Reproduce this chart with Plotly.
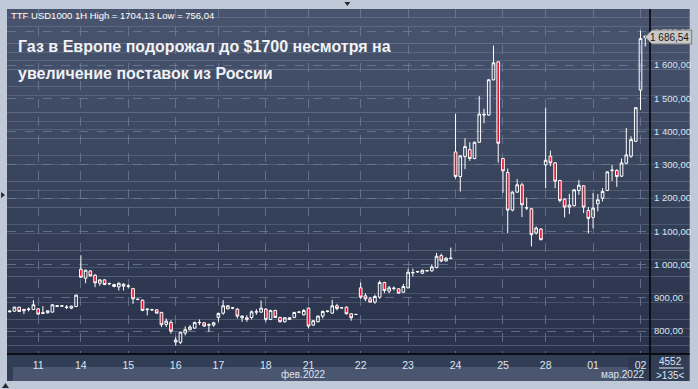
import plotly.graph_objects as go

# ---------------- data (hourly candles, 135 visible) ----------------
opens = [858, 860, 872, 861, 865, 865, 867, 853, 855, 857,
         874, 875, 871, 869, 874, 986, 959, 981, 968, 944,
         954, 942, 940, 933, 935, 936, 928, 896, 893, 864,
         864, 864, 856, 820, 826, 767, 766, 794, 804, 809,
         825, 825, 818, 818, 841, 854, 867, 869, 866, 840,
         840, 841, 857, 857, 866, 835, 862, 841, 828, 835,
         841, 857, 849, 869, 818, 828, 845, 859, 854, 876,
         870, 872, 852, 850, 930, 906, 897, 887, 902, 946,
         920, 928, 927, 917, 930, 975, 978, 974, 981, 981,
         991, 1027, 1011, 1018, 1339, 1265, 1325, 1346, 1319, 1368,
         1450, 1450, 1556, 1610, 1319, 1277, 1164, 1218, 1240, 1170,
         1168, 1095, 1107, 1300, 1326, 1306, 1253, 1197, 1173, 1177,
         1223, 1237, 1163, 1142, 1183, 1200, 1223, 1283, 1283, 1266,
         1305, 1326, 1371, 1525, 1683]
highs = [862, 873, 873, 867, 871, 893, 869, 875, 862, 881,
         877, 877, 878, 876, 910, 1028, 985, 983, 971, 956,
         956, 946, 942, 946, 944, 941, 930, 898, 895, 868,
         867, 866, 858, 838, 833, 782, 797, 814, 818, 828,
         835, 827, 823, 828, 856, 893, 878, 872, 869, 847,
         848, 862, 866, 892, 869, 864, 864, 843, 842, 842,
         858, 860, 866, 871, 833, 847, 862, 862, 894, 882,
         872, 874, 854, 851, 946, 914, 903, 910, 952, 948,
         936, 934, 929, 942, 988, 988, 981, 985, 984, 1001,
         1035, 1033, 1023, 1051, 1454, 1330, 1380, 1368, 1370, 1507,
         1469, 1558, 1659, 1612, 1321, 1289, 1220, 1257, 1246, 1202,
         1170, 1115, 1109, 1472, 1343, 1308, 1255, 1199, 1213, 1227,
         1255, 1239, 1173, 1215, 1212, 1230, 1281, 1300, 1287, 1319,
         1411, 1386, 1474, 1704, 1689]
lows = [856, 858, 857, 851, 859, 863, 849, 851, 853, 856,
        872, 873, 866, 866, 872, 960, 944, 964, 932, 936,
        938, 938, 932, 922, 922, 928, 882, 893, 860, 847,
        861, 852, 812, 812, 792, 756, 761, 787, 802, 807,
        818, 813, 797, 813, 828, 849, 865, 866, 838, 828,
        828, 835, 849, 855, 828, 833, 839, 826, 826, 833,
        839, 854, 847, 808, 816, 826, 838, 856, 852, 862,
        868, 850, 831, 849, 897, 890, 887, 882, 897, 914,
        914, 922, 914, 915, 929, 964, 975, 972, 979, 979,
        989, 1007, 1009, 1017, 1259, 1220, 1287, 1312, 1317, 1366,
        1425, 1448, 1554, 1307, 1216, 1095, 1160, 1216, 1143, 1164,
        1055, 1090, 1073, 1230, 1296, 1230, 1187, 1142, 1152, 1175,
        1210, 1155, 1094, 1109, 1160, 1190, 1221, 1252, 1234, 1264,
        1303, 1321, 1369, 1465, 1656]
closes = [860, 872, 859, 865, 866, 879, 851, 855, 861, 879,
          876, 876, 872, 875, 908, 962, 983, 966, 945, 954,
          940, 943, 934, 944, 941, 935, 897, 895, 862, 866,
          864, 854, 819, 830, 800, 773, 797, 804, 812, 826,
          826, 815, 819, 825, 853, 876, 876, 870, 845, 845,
          835, 858, 858, 869, 835, 862, 841, 828, 840, 840,
          856, 857, 862, 815, 831, 845, 859, 860, 876, 868,
          870, 852, 840, 850, 902, 897, 887, 904, 946, 922,
          930, 929, 914, 934, 977, 976, 979, 983, 982, 993,
          1025, 1011, 1019, 1019, 1265, 1327, 1355, 1319, 1368, 1453,
          1452, 1556, 1607, 1365, 1282, 1164, 1218, 1240, 1180, 1171,
          1090, 1110, 1075, 1314, 1306, 1251, 1193, 1173, 1179, 1225,
          1239, 1173, 1139, 1170, 1195, 1220, 1279, 1284, 1265, 1306,
          1330, 1376, 1472, 1680, 1687]

day_start_index = [6, 15, 25, 35, 44, 54, 63, 74, 84, 94, 104, 113, 123, 133]
day_labels = ["11", "14", "15", "16", "17", "18", "21", "22", "23", "24", "25", "28", "01", "02"]
price_ticks = [800, 900, 1000, 1100, 1200, 1300, 1400, 1500, 1600, 1700]
last_price_text = "1 686,54"
header_text = "TTF USD1000 1H High = 1704,13 Low = 756,04"
title_lines = ["Газ в Европе подорожал до $1700 несмотря на", "увеличение поставок из России"]
month_labels = ["фев.2022", "мар.2022"]
bar_count_text = ["4552", ">135<"]

idx = list(range(len(opens)))

# ---------------- geometry ----------------
W, H = 698, 389
L, R, T, B = 7, 43, 9, 35
PW, PH = W - L - R, H - T - B


def px(xp):
    return (xp - L) / PW


def py(yp):
    return (H - B - yp) / PH


FRAME = "rgb(192,201,215)"
TXT = "rgb(222,229,240)"
GRID = "rgba(112,127,158,0.75)"

fig = go.Figure()
fig.add_trace(go.Candlestick(
    x=idx, open=opens, high=highs, low=lows, close=closes,
    increasing=dict(line=dict(color="white", width=1), fillcolor="rgba(0,0,0,0)"),
    decreasing=dict(line=dict(color="white", width=1), fillcolor="#e3122f"),
    whiskerwidth=0, hoverinfo="skip", showlegend=False,
))

shapes = []
# gradient background (plot + right axis panel)
n = 40
top = (72, 84, 110)
bot = (40, 50, 74)
for k in range(n):
    t = k / (n - 1)
    c = tuple(round(top[j] + (bot[j] - top[j]) * t) for j in range(3))
    shapes.append(dict(type="rect", xref="paper", yref="paper",
                       x0=0, x1=px(695), y0=1 - (k + 1) / n, y1=1 - k / n,
                       fillcolor="rgb(%d,%d,%d)" % c, line=dict(width=0), layer="below"))
# bottom date row and month band
shapes.append(dict(type="rect", xref="paper", yref="paper", x0=0, x1=px(695),
                   y0=py(381), y1=py(354), fillcolor="rgb(50,61,86)", line=dict(width=0), layer="below"))
shapes.append(dict(type="rect", xref="paper", yref="paper", x0=px(13), x1=px(655),
                   y0=py(381), y1=py(367), fillcolor="rgb(74,86,111)", line=dict(width=0), layer="below"))
shapes.append(dict(type="rect", xref="paper", yref="paper", x0=px(633), x1=px(655),
                   y0=py(380), y1=py(357), fillcolor="rgba(45,56,80,0.85)", line=dict(width=0), layer="below"))
# separator lines
shapes.append(dict(type="line", xref="paper", yref="paper", x0=px(655), x1=px(655),
                   y0=py(381), y1=1, line=dict(color="black", width=1.5)))
shapes.append(dict(type="line", xref="paper", yref="paper", x0=0, x1=px(695),
                   y0=0, y1=0, line=dict(color="black", width=1.5)))
shapes.append(dict(type="line", xref="paper", yref="paper", x0=px(664), x1=px(689),
                   y0=py(368), y1=py(368), line=dict(color=TXT, width=1)))
# last price tag
tag_path = "M {a},{m} L {b},{t} L {c},{t} L {c},{bt} L {b},{bt} Z".format(
    a=px(650), b=px(657), c=px(697), m=py(37), t=py(30), bt=py(44))
shapes.append(dict(type="path", xref="paper", yref="paper", path=tag_path,
                   fillcolor="rgb(200,200,200)", line=dict(color="rgb(120,120,120)", width=1), layer="above"))
# small frame arrows
shapes.append(dict(type="path", xref="paper", yref="paper",
                   path="M {},{} L {},{} L {},{} Z".format(px(347), py(2), px(353), py(2), px(350), py(6)),
                   fillcolor="rgb(40,40,40)", line=dict(width=0)))
shapes.append(dict(type="path", xref="paper", yref="paper",
                   path="M {},{} L {},{} L {},{} Z".format(px(1), py(192), px(1), py(198), px(5), py(195)),
                   fillcolor="rgb(40,40,40)", line=dict(width=0)))
shapes.append(dict(type="path", xref="paper", yref="paper",
                   path="M {},{} L {},{} L {},{} Z".format(px(2), py(388), px(9), py(388), px(5.5), py(383)),
                   fillcolor="rgb(40,40,40)", line=dict(width=0)))

annotations = [
    dict(text=header_text, xref="paper", yref="paper", x=px(9), y=py(15), xanchor="left", yanchor="middle",
         showarrow=False, font=dict(family="Liberation Sans", size=9.5, color="white")),
    dict(text=title_lines[0], xref="paper", yref="paper", x=px(16), y=py(46), xanchor="left", yanchor="middle",
         showarrow=False, font=dict(family="Liberation Sans", size=16, color="rgb(240,242,246)", weight="bold")),
    dict(text=title_lines[1], xref="paper", yref="paper", x=px(16), y=py(74), xanchor="left", yanchor="middle",
         showarrow=False, font=dict(family="Liberation Sans", size=16, color="rgb(240,242,246)", weight="bold")),
    dict(text=last_price_text, xref="paper", yref="paper", x=px(696), y=py(37), xanchor="right", yanchor="middle",
         showarrow=False, font=dict(family="Liberation Sans", size=10, color="rgb(25,25,25)")),
    dict(text=month_labels[0], xref="paper", yref="paper", x=px(306), y=py(374), xanchor="center", yanchor="middle",
         showarrow=False, font=dict(family="Liberation Sans", size=10, color=TXT)),
    dict(text=month_labels[1], xref="paper", yref="paper", x=px(627), y=py(374), xanchor="center", yanchor="middle",
         showarrow=False, font=dict(family="Liberation Sans", size=10, color=TXT)),
    dict(text=bar_count_text[0], xref="paper", yref="paper", x=px(676), y=py(361), xanchor="center", yanchor="middle",
         showarrow=False, font=dict(family="Liberation Sans", size=10, color=TXT)),
    dict(text=bar_count_text[1], xref="paper", yref="paper", x=px(676), y=py(375), xanchor="center", yanchor="middle",
         showarrow=False, font=dict(family="Liberation Sans", size=10, color=TXT)),
]

fig.update_layout(
    width=W, height=H,
    margin=dict(l=L, r=R, t=T, b=B, pad=0),
    paper_bgcolor=FRAME, plot_bgcolor="rgba(0,0,0,0)",
    separators=", ",
    boxgap=0.2,
    shapes=shapes, annotations=annotations,
    showlegend=False,
    xaxis=dict(range=[-0.57, 135.0], rangeslider=dict(visible=False),
               tickmode="array", tickvals=day_start_index, ticktext=day_labels,
               showgrid=True, gridcolor=GRID, griddash="dash", gridwidth=1,
               zeroline=False, showline=False, ticks="", ticklabelstandoff=3,
               tickfont=dict(family="Liberation Sans", size=10.5, color=TXT), fixedrange=True),
    yaxis=dict(range=[731, 1769], side="right", tickmode="array", tickvals=price_ticks,
               tickformat=",.2f", showgrid=True, gridcolor=GRID, griddash="dash", gridwidth=1,
               zeroline=False, showline=False, ticks="", ticklabelstandoff=3,
               tickfont=dict(family="Liberation Sans", size=9.5, color=TXT), fixedrange=True),
)

fig.write_html("out.html", config={"displayModeBar": False},
               post_script="document.body.style.margin='0';document.body.style.overflow='hidden';")
